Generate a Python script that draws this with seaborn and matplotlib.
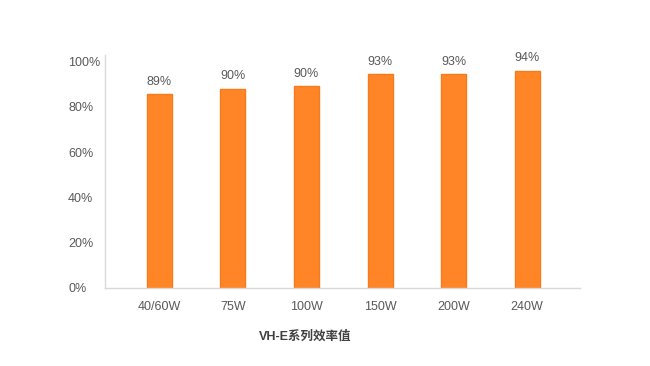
import matplotlib
matplotlib.use("Agg")
import matplotlib.pyplot as plt
import matplotlib.transforms as mtransforms
import seaborn as sns
import pandas as pd

# values
models = ["40/60W", "75W", "100W", "150W", "200W", "240W"]
bar_heights = [85.5, 88.0, 89.3, 94.5, 94.5, 96.0]
value_labels = ["89%", "90%", "90%", "93%", "93%", "94%"]
yticks = [0, 20, 40, 60, 80, 100]
xlabel = "VH-E系列效率值"

sns.set_style("white")
plt.rcParams['font.family'] = ['Liberation Sans', 'Noto Sans CJK SC', 'DejaVu Sans']

df = pd.DataFrame({"model": models, "eff": bar_heights})

fig = plt.figure(figsize=(6.5, 3.66), dpi=100)
ax = fig.add_axes([105/650, 1 - 288/366, 475/650, 233/366])

sns.barplot(data=df, x="model", y="eff", ax=ax, color="#FF8526",
            edgecolor="#F77B1C", linewidth=1.0, width=0.34, saturation=1)

txt = "#595959"
for i, (h, lab) in enumerate(zip(bar_heights, value_labels)):
    ax.annotate(lab, (i, h), xytext=(0, 4.5), textcoords="offset points",
                ha="center", va="bottom", fontsize=9, color=txt)

ax.set_xlim(-0.74, 5.72)
ax.set_ylim(0, 102.9)
ax.set_yticks(yticks)
ax.set_yticklabels([f"{t}%" for t in yticks])
shift = mtransforms.ScaledTranslation(0, 2/100, fig.dpi_scale_trans)
for lbl in ax.get_yticklabels():
    lbl.set_horizontalalignment("left")
    lbl.set_transform(lbl.get_transform() + shift)
ax.tick_params(axis="y", length=0, pad=26.6, labelsize=9, labelcolor=txt)
ax.tick_params(axis="x", length=0, pad=9, labelsize=9, labelcolor=txt)

ax.set_xlabel("")
ax.set_ylabel("")
for s in ["top", "right"]:
    ax.spines[s].set_visible(False)
for s in ["left", "bottom"]:
    ax.spines[s].set_color("#D9D9D9")
    ax.spines[s].set_linewidth(1.0)

fig.text(305/650, 1 - 337/366, xlabel, ha="center", va="center",
         fontsize=9, fontweight="bold", color="#404040")

fig.savefig("out.png", dpi=100, facecolor="white")
